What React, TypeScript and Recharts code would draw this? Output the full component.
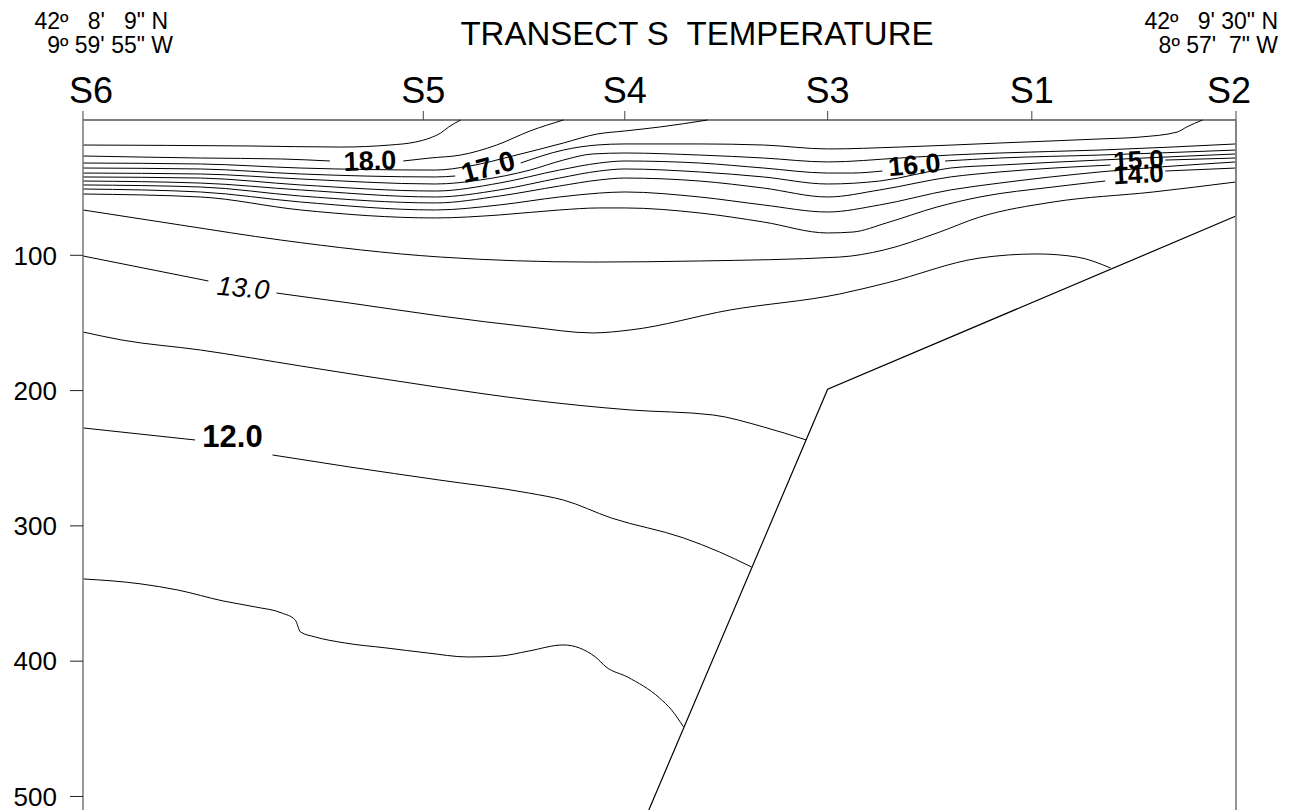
import React from "react";
import { ComposedChart, Line, XAxis, YAxis, ReferenceDot } from "recharts";

// stations along the transect (km from S6)
const STATIONS = ["S6", "S5", "S4", "S3", "S1", "S2"];
const STATION_KM = [0, 25.5, 40.6, 55.8, 71.1, 86.4];
const DEPTH_TICKS = [100, 200, 300, 400, 500];

// isotherms, [km, depth m]; null = gap for a contour label
const iso185 = [[0, 18.5], [12.5, 19.2], [19.3, 20.0], [23.0, 18.5], [24.9, 16.3], [26.0, 13.3], [26.8, 9.6], [27.4, 5.2], [28.3, 0]];
const iso180 = [[0, 26.6], [8.8, 28.1], [14.8, 28.8], [18.5, 30.3], [21, null], [24.0, 30.3], [26.0, 28.1], [28.3, 25.9], [31.0, 18.5], [33.5, 8.1], [36.0, 0]];
const iso175 = [[0, 31.8], [8.8, 32.5], [16.3, 35.5], [26.4, 37.0], [29.0, 34.0], [32.2, 26.6], [36.0, 17.0], [38.5, 10.4], [40.6, 8.1], [43.2, 5.2], [46.8, 0]];
const iso170 = [[0, 35.5], [8.8, 36.2], [16.3, 39.9], [26.4, 42.1], [27.9, 41.4], [30, null], [32.8, 31.8], [36.0, 22.2], [38.5, 18.5], [40.6, 17.7], [46.2, 17.7], [51.0, 18.5], [55.8, 21.4], [61.2, 20.0], [68.7, 17.0], [76.2, 14.0], [79.2, 12.6], [82.0, 8.9], [82.7, 5.2], [83.9, 0]];
const iso165 = [[0, 39.2], [8.8, 39.9], [16.3, 43.6], [26.4, 47.3], [29.8, 44.3], [33.5, 37.0], [36.0, 29.6], [38.2, 25.1], [40.6, 24.4], [46.2, 25.9], [51.0, 28.1], [55.8, 31.0], [61.2, 28.1], [65.0, 25.9], [68.7, 24.4], [76.2, 22.2], [86.4, 17.7]];
const iso160 = [[0, 42.1], [8.8, 42.9], [16.3, 48.0], [26.4, 52.5], [31.2, 46.6], [35.7, 37.0], [38.7, 31.8], [40.6, 30.3], [46.2, 31.8], [51.0, 35.5], [55.8, 39.2], [57.6, 39.2], [59.9, 37.7], [62, null], [64.6, 30.3], [68.7, 28.1], [76.2, 25.9], [86.4, 22.2]];
const iso155 = [[0, 45.1], [8.8, 46.6], [16.3, 51.7], [26.4, 56.9], [31.2, 51.7], [35.7, 42.9], [38.7, 37.7], [40.6, 36.2], [46.2, 38.4], [51.0, 42.1], [55.8, 47.3], [59.7, 45.1], [65.0, 35.5], [68.7, 33.3], [76.2, 29.6], [86.4, 25.1]];
const iso150 = [[0, 48.0], [8.8, 49.5], [16.3, 56.2], [26.4, 61.3], [31.2, 56.2], [35.7, 48.8], [38.7, 44.3], [40.6, 42.9], [46.2, 45.1], [51.0, 50.3], [55.8, 56.9], [59.7, 51.7], [65.0, 42.1], [68.7, 38.4], [77.0, 33.3], [79, null], [81.1, 29.6], [86.4, 28.1]];
const iso145 = [[0, 51.0], [8.8, 53.2], [16.3, 60.6], [26.4, 66.5], [31.2, 62.8], [35.7, 56.9], [38.7, 54.0], [40.6, 53.2], [46.2, 56.9], [51.0, 62.8], [55.8, 68.0], [59.7, 62.8], [65.0, 51.7], [68.7, 46.6], [76.2, 38.4], [86.4, 31.0]];
const iso140 = [[0, 54.7], [8.8, 56.9], [16.3, 66.5], [26.4, 72.4], [31.2, 70.2], [35.7, 66.5], [38.7, 65.0], [40.6, 65.0], [46.2, 68.7], [51.0, 75.4], [55.8, 83.5], [57.7, 82.8], [60.2, 76.1], [64.0, 64.3], [67.2, 56.9], [72.7, 49.5], [76.6, 45.1], [79, null], [81.1, 37.7], [86.4, 35.5]];
const iso135 = [[0, 66.5], [7.3, 77.6], [14.8, 88.7], [26.8, 101.3], [38.2, 105.0], [46.2, 104.2], [56.7, 101.3], [60.0, 96.1], [64.0, 83.5], [67.2, 71.7], [72.7, 60.6], [80.2, 53.2], [86.4, 45.8]];
const iso130 = [[0, 100.5], [9.4, 119.0], [12, null], [14.5, 127.9], [20.0, 135.3], [26.8, 144.9], [33.5, 153.0], [38.2, 157.4], [41.0, 155.2], [48.5, 140.4], [56.7, 128.6], [60.2, 120.5], [67.2, 102.0], [71.5, 99.0], [74.5, 101.3], [77.0, 109.4]];
const iso125 = [[0, 156.7], [2.9, 162.6], [8.8, 170.0], [16.3, 181.8], [26.0, 196.6], [33.5, 206.9], [41.0, 214.3], [47.2, 218.0], [51.0, 226.9], [54.2, 236.5]];
const iso120 = [[0, 227.6], [8.4, 236.5], [11, null], [14.2, 247.6], [20.0, 256.5], [26.7, 266.1], [33.4, 275.7], [36.0, 280.9], [39.6, 294.2], [45.0, 308.9], [47.7, 319.3], [50.1, 330.4]];
const iso115 = [[0, 339.2], [4.35, 342.9], [7.1, 347.4], [10.5, 355.5], [12.9, 359.9], [14.9, 364.4], [15.9, 369.5], [16.3, 378.4], [17.4, 382.1], [19.6, 386.5], [22.7, 390.2], [25.8, 393.9], [28.85, 396.9], [31.25, 396.2], [33.4, 392.5], [36.0, 388.0], [38.4, 396.9], [39.2, 404.3], [40.8, 411.7], [43.2, 427.2], [44.1, 436.0], [45.0, 448.6]];

// sea floor and the right-hand edge of the section
const seabed = [[42.4, 510], [55.8, 199], [86.4, 71]];
const rightEdge = [[86.4, 0], [86.4, 71]];

// contour labels: text, km, depth
const LABELS: [string, number, number][] = [
  ["18.0", 21.5, 30.3],
  ["17.0", 30.35, 34.7],
  ["16.0", 62.3, 33.3],
  ["15.0", 79.1, 29.6],
  ["14.0", 79.1, 39.9],
  ["13.0", 12.0, 124.2],
  ["12.0", 11.2, 234.3],
];

const ISOTHERMS = [iso185, iso180, iso175, iso170, iso165, iso160, iso155, iso150, iso145, iso140, iso135, iso130, iso125, iso120, iso115];

const pts = (a: (number | null)[][]) => a.map(([x, d]) => ({ x, d }));

const labelStyle: Record<string, { size: number; rot: number; bold: boolean; italic?: boolean }> = {
  "18.0": { size: 27, rot: -2, bold: true },
  "17.0": { size: 28, rot: -15, bold: true },
  "16.0": { size: 27, rot: -5, bold: true },
  "15.0": { size: 26, rot: -3, bold: true },
  "14.0": { size: 26, rot: -3, bold: true },
  "13.0": { size: 27, rot: 5, bold: false, italic: true },
  "12.0": { size: 31, rot: 0, bold: true },
};

const StationTick = (props: any) => {
  const { x, y, payload } = props;
  const i = STATION_KM.indexOf(payload.value);
  // end labels sit a little inside the frame
  const shift = i === 0 ? 8 : i === STATIONS.length - 1 ? -7 : 0;
  return (
    <text x={x + shift} y={y} dy={-6} textAnchor="middle" fontSize={36} fill="#000">
      {STATIONS[i]}
    </text>
  );
};

export default function App() {
  const font = "'Liberation Sans', Arial, sans-serif";
  return (
    <div style={{ position: "absolute", left: 0, top: 0, width: 1296, height: 810, background: "#fff", fontFamily: font }}>
      <ComposedChart width={1296} height={810} margin={{ top: 0, right: 0, bottom: 0, left: 0 }}>
        <XAxis
          xAxisId="t"
          type="number"
          dataKey="x"
          orientation="top"
          domain={[0, 86.4]}
          ticks={STATION_KM}
          height={120}
          tickSize={9}
          tickMargin={2}
          axisLine={{ stroke: "#000" }}
          tickLine={{ stroke: "#444" }}
          tick={<StationTick />}
          interval={0}
        />
        <YAxis
          yAxisId="l"
          type="number"
          domain={[0, 510]}
          reversed
          ticks={DEPTH_TICKS}
          width={83}
          tickSize={13}
          tickMargin={13}
          axisLine={{ stroke: "#777", strokeWidth: 1.5 }}
          tickLine={{ stroke: "#222" }}
          tick={{ fontSize: 26, fill: "#000" }}
          interval={0}
        />
        <YAxis
          yAxisId="r"
          orientation="right"
          type="number"
          domain={[0, 510]}
          reversed
          ticks={DEPTH_TICKS}
          width={60}
          tickSize={14}
          axisLine={{ stroke: "#888", strokeWidth: 1.8 }}
          tickLine={{ stroke: "#333" }}
          tick={false}
          interval={0}
        />
        {ISOTHERMS.map((iso, i) => (
          <Line
            key={i}
            xAxisId="t"
            yAxisId="l"
            data={pts(iso)}
            dataKey="d"
            type="monotone"
            stroke="#000"
            strokeWidth={1}
            dot={false}
            activeDot={false}
            connectNulls={false}
            isAnimationActive={false}
          />
        ))}
        <Line xAxisId="t" yAxisId="l" data={pts(seabed)} dataKey="d" type="linear" stroke="#000" strokeWidth={1.2} dot={false} activeDot={false} isAnimationActive={false} />
        <Line xAxisId="t" yAxisId="l" data={pts(rightEdge)} dataKey="d" type="linear" stroke="#000" strokeWidth={1.2} dot={false} activeDot={false} isAnimationActive={false} />
        {LABELS.map(([t, x, d]) => {
          const s = labelStyle[t];
          return (
            <ReferenceDot
              key={t}
              xAxisId="t"
              yAxisId="l"
              x={x}
              y={d}
              r={0}
              ifOverflow="visible"
              shape={(p: any) => (
                <text
                  x={p.cx}
                  y={p.cy}
                  textAnchor="middle"
                  dominantBaseline="central"
                  fontSize={s.size}
                  fontWeight={s.bold ? "bold" : "normal"}
                  fontStyle={s.italic ? "italic" : "normal"}
                  fill="#000"
                  transform={`rotate(${s.rot} ${p.cx} ${p.cy})`}
                >
                  {t}
                </text>
              )}
            />
          );
        })}
      </ComposedChart>
      <svg width={1296} height={120} style={{ position: "absolute", left: 0, top: 0, pointerEvents: "none" }}>
        <g fontFamily={font} fill="#000">
          <text x={697} y={45} textAnchor="middle" fontSize={33} xmlSpace="preserve" style={{ whiteSpace: "pre" }}>{"TRANSECT S  TEMPERATURE"}</text>
          <text x={168} y={29} textAnchor="end" fontSize={23} xmlSpace="preserve" style={{ whiteSpace: "pre" }}>{"42º   8'   9\" N"}</text>
          <text x={173} y={53} textAnchor="end" fontSize={23} xmlSpace="preserve" style={{ whiteSpace: "pre" }}>{"9º 59' 55\" W"}</text>
          <text x={1278} y={29} textAnchor="end" fontSize={23} xmlSpace="preserve" style={{ whiteSpace: "pre" }}>{"42º   9' 30\" N"}</text>
          <text x={1278} y={53} textAnchor="end" fontSize={23} xmlSpace="preserve" style={{ whiteSpace: "pre" }}>{"8º 57'  7\" W"}</text>
        </g>
      </svg>
    </div>
  );
}
